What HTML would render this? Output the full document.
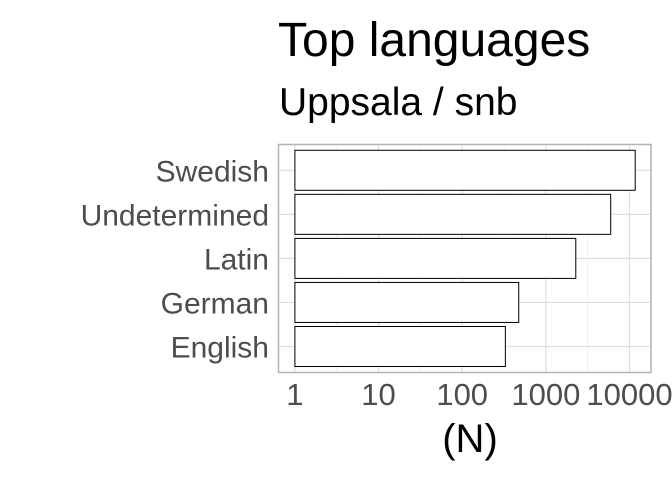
<!DOCTYPE html>
<html><head><meta charset="utf-8"><style>
html,body{margin:0;padding:0;background:#fff;width:672px;height:480px;overflow:hidden}
text{font-family:"Liberation Sans",sans-serif}
</style></head><body>
<svg id="chart" width="672" height="480">
<text x="278" y="56" font-size="48" fill="#000">Top languages</text>
<text x="279" y="115" font-size="39" fill="#000">Uppsala / snb</text>
<g id="grid"></g>
<g id="bars"></g>
<rect x="278.5" y="144.5" width="372.5" height="228" fill="none" stroke="#b3b3b3" stroke-width="1.5"/>
<g id="ylabels"></g>
<g id="xlabels"></g>
<text x="470" y="452" font-size="40" text-anchor="middle" fill="#000">(N)</text>
</svg>
<script>
const categories = ["Swedish","Undetermined","Latin","German","English"];
const counts = [11700, 5960, 2280, 474, 328];
const xTicks = [1, 10, 100, 1000, 10000];
const xTickLabels = ["1","10","100","1000","10000"];

const NS = "http://www.w3.org/2000/svg";
const px0 = 278.5, px1 = 651, lmin = -0.196, lmax = 4.257;
function xScale(v){ return px0 + (Math.log10(v) - lmin) / (lmax - lmin) * (px1 - px0); }
const yStep = 44.05, y0 = 170.3;
function yScale(i){ return y0 + i * yStep; }
function mk(tag, attrs, parent){ const e = document.createElementNS(NS, tag); for (const k in attrs) e.setAttribute(k, attrs[k]); parent.appendChild(e); return e; }

const grid = document.getElementById('grid');
for (let i = 0; i < xTicks.length; i++) {
  const x = xScale(xTicks[i]);
  const l = mk('line', {x1:x, x2:x, y1:144.5, y2:372.5, stroke:'#dedede', 'stroke-width':1.2}, grid);
  
  
  const xm = xScale(xTicks[i] * Math.sqrt(10));
  if (xm < px1) {
    const m = mk('line', {x1:xm, x2:xm, y1:144.5, y2:372.5, stroke:'#ececec', 'stroke-width':0.8}, grid);
    
    
  }
}
for (let i = 0; i < categories.length; i++) {
  const y = yScale(i);
  const l = mk('line', {x1:278.5, x2:651, y1:y, y2:y, stroke:'#dedede', 'stroke-width':1.2}, grid);
  
  
}

const bars = document.getElementById('bars');
const ylabels = document.getElementById('ylabels');
for (let i = 0; i < categories.length; i++) {
  const y = yScale(i);
  const xs = xScale(1), xe = xScale(counts[i]);
  const r = mk('rect', {x:xs, y:y-20, width:xe-xs, height:40, fill:'#fff', stroke:'#000', 'stroke-width':1}, bars);
  
  
  const t = mk('text', {x:269, y:y+11, 'font-size':30, 'text-anchor':'end', fill:'#4d4d4d'}, ylabels);
  t.textContent = categories[i];
  
  
}

const xlabels = document.getElementById('xlabels');
for (let i = 0; i < xTicks.length; i++) {
  const t = mk('text', {x:xScale(xTicks[i]), y:405, 'font-size':31, 'text-anchor':'middle', fill:'#4d4d4d'}, xlabels);
  t.textContent = xTickLabels[i];
  
  
}
</script>
</body></html>
